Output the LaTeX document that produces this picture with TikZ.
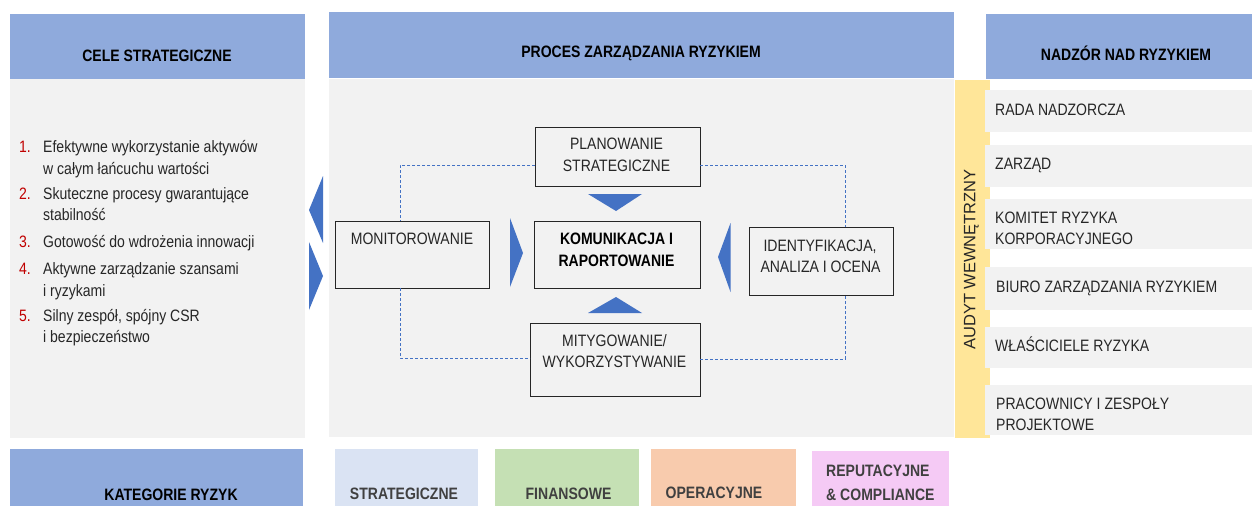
\documentclass[tikz,border=0pt]{standalone}
\usepackage{fontspec}
\setmainfont{Liberation Sans}[FakeStretch=0.85]
\newfontfamily\widefont{Liberation Sans}
\usetikzlibrary{calc}
\definecolor{hdrblue}{HTML}{8FAADC}
\definecolor{panelgray}{HTML}{F2F2F2}
\definecolor{audyt}{HTML}{FFE699}
\definecolor{catstrat}{HTML}{DAE3F3}
\definecolor{catfin}{HTML}{C5E0B4}
\definecolor{catop}{HTML}{F8CBAD}
\definecolor{catrep}{HTML}{F5CAF5}
\definecolor{accent}{HTML}{4472C4}
\definecolor{numred}{HTML}{C00000}
\definecolor{txtcol}{HTML}{262626}
\definecolor{cattxt}{HTML}{404040}
\tikzset{
  panel/.style={anchor=north west, inner sep=0, outer sep=0, draw=none},
  procbox/.style={draw=black!85, line width=1pt, fill=panelgray, inner sep=0, outer sep=0},
  txt/.style={inner sep=0, anchor=base, text=txtcol, font=\fontsize{16.5}{20}\selectfont},
  ltxt/.style={txt, anchor=base west},
  htxt/.style={txt, text=black, font=\fontsize{16.5}{20}\selectfont\bfseries},
  ctxt/.style={txt, text=cattxt, font=\fontsize{16.5}{20}\selectfont\bfseries},
  num/.style={txt, anchor=base west, text=numred},
  dashline/.style={draw=accent, line width=0.8pt, dash pattern=on 3pt off 2pt},
  tri/.style={fill=accent, draw=none}
}
\begin{document}
\begin{tikzpicture}[x=1pt,y=-1pt]
\useasboundingbox (0,0) rectangle (1252,506);
\fill[white] (0,0) rectangle (1252,506);
% ---------- panels ----------
\node[panel, fill=hdrblue, minimum width=295, minimum height=65] (lh) at (10,14) {};
\node[panel, fill=panelgray, minimum width=295, minimum height=359] (lb) at (10,79) {};
\node[panel, fill=hdrblue, minimum width=625, minimum height=66] (mh) at (329,12) {};
\node[panel, fill=panelgray, minimum width=625, minimum height=358] (mb) at (329,79) {};
\node[panel, fill=hdrblue, minimum width=266, minimum height=65] (rh) at (986,14) {};
\node[panel, fill=audyt, minimum width=35, minimum height=358] (au) at (955,80) {};
% right rows
\node[panel, fill=panelgray, minimum width=267, minimum height=42] (r1) at (985,90) {};
\node[panel, fill=panelgray, minimum width=267, minimum height=42] (r2) at (985,145) {};
\node[panel, fill=panelgray, minimum width=267, minimum height=50] (r3) at (985,199) {};
\node[panel, fill=panelgray, minimum width=267, minimum height=43] (r4) at (985,267) {};
\node[panel, fill=panelgray, minimum width=267, minimum height=41] (r5) at (985,327) {};
\node[panel, fill=panelgray, minimum width=267, minimum height=50] (r6) at (985,385) {};
% bottom categories
\node[panel, fill=hdrblue, minimum width=293, minimum height=57] (kh) at (10,449) {};
\node[panel, fill=catstrat, minimum width=143, minimum height=57] (k1) at (335,449) {};
\node[panel, fill=catfin, minimum width=144, minimum height=57] (k2) at (495,449) {};
\node[panel, fill=catop, minimum width=145, minimum height=57] (k3) at (651,449) {};
\node[panel, fill=catrep, minimum width=137, minimum height=55] (k4) at (812,451) {};
% ---------- header texts ----------
\node[htxt] (lht) at (157,61) {CELE STRATEGICZNE};
\node[htxt] (mht) at (641,57) {PROCES ZARZĄDZANIA RYZYKIEM};
\node[htxt] (rht) at (1126,60) {NADZÓR NAD RYZYKIEM};
% ---------- left list ----------
\node[num] (n1) at (19,152) {1.};
\node[ltxt] (t1a) at (43,152) {Efektywne wykorzystanie aktywów};
\node[ltxt] (t1b) at (43,174) {w całym łańcuchu wartości};
\node[num] (n2) at (19,199) {2.};
\node[ltxt] (t2a) at (43,199) {Skuteczne procesy gwarantujące};
\node[ltxt] (t2b) at (43,220) {stabilność};
\node[num] (n3) at (19,247) {3.};
\node[ltxt] (t3a) at (43,247) {Gotowość do wdrożenia innowacji};
\node[num] (n4) at (19,274) {4.};
\node[ltxt] (t4a) at (43,274) {Aktywne zarządzanie szansami};
\node[ltxt] (t4b) at (43,296) {i ryzykami};
\node[num] (n5) at (19,321) {5.};
\node[ltxt] (t5a) at (43,321) {Silny zespół, spójny CSR};
\node[ltxt] (t5b) at (43,342) {i bezpieczeństwo};
% ---------- side arrows between panels ----------
\fill[tri] (309,210) -- (323,176) -- (323,243) -- cycle;
\fill[tri] (309,242) -- (309,310) -- (323,276) -- cycle;
% ---------- process boxes ----------
\node[procbox, minimum width=165, minimum height=59] (plan) at (617.5,156.5) {};
\node[procbox, minimum width=154, minimum height=67] (mon) at (412,254.5) {};
\node[procbox, minimum width=166, minimum height=67] (kom) at (617,254.5) {};
\node[procbox, minimum width=144, minimum height=68] (ide) at (821,261) {};
\node[procbox, minimum width=170, minimum height=73] (mit) at (615,359.5) {};
% dashed cycle
\draw[dashline] (plan.west |- 0,165) -| (400,0 |- mon.north);
\draw[dashline] (plan.east |- 0,165) -| (845,0 |- ide.north);
\draw[dashline] (400,0 |- mon.south) |- (mit.west |- 0,358);
\draw[dashline] (mit.east |- 0,359) -| (845,0 |- ide.south);
% inner arrows
\fill[tri] (588,194) -- (642,194) -- (616,211) -- cycle;
\fill[tri] (588,313) -- (642,313) -- (616,297) -- cycle;
\fill[tri] (510,218) -- (510,287) -- (523,253) -- cycle;
\fill[tri] (730.5,223) -- (730.5,292) -- (718,257) -- cycle;
% box texts
\node[txt] (plan1) at (616.5,149) {PLANOWANIE};
\node[txt] (plan2) at (616.5,171) {STRATEGICZNE};
\node[txt] (mon1) at (412,244) {MONITOROWANIE};
\node[htxt] (kom1) at (616.5,244) {KOMUNIKACJA I};
\node[htxt] (kom2) at (616.5,266) {RAPORTOWANIE};
\node[txt] (ide1) at (820,251) {IDENTYFIKACJA,};
\node[txt] (ide2) at (820.5,272) {ANALIZA I OCENA};
\node[txt] (mit1) at (614.5,346) {MITYGOWANIE/};
\node[txt] (mit2) at (614.5,367) {WYKORZYSTYWANIE};
% ---------- audit strip ----------
\node[inner sep=0, rotate=90, text=txtcol, font=\widefont\fontsize{16.5}{20}\selectfont] (aut) at (971.5,259.5) {AUDYT WEWNĘTRZNY};
% ---------- right rows text ----------
\node[ltxt] (r1t) at (995,115) {RADA NADZORCZA};
\node[ltxt] (r2t) at (995,169) {ZARZĄD};
\node[ltxt] (r3a) at (995,223) {KOMITET RYZYKA};
\node[ltxt] (r3b) at (995,244) {KORPORACYJNEGO};
\node[ltxt] (r4t) at (996,292) {BIURO ZARZĄDZANIA RYZYKIEM};
\node[ltxt] (r5t) at (995,351) {WŁAŚCICIELE RYZYKA};
\node[ltxt] (r6a) at (996,409) {PRACOWNICY I ZESPOŁY};
\node[ltxt] (r6b) at (996,430) {PROJEKTOWE};
% ---------- bottom texts ----------
\node[htxt] (kht) at (171,500) {KATEGORIE RYZYK};
\node[ctxt] (k1t) at (404,499) {STRATEGICZNE};
\node[ctxt] (k2t) at (568.5,499) {FINANSOWE};
\node[ctxt] (k3t) at (714,498) {OPERACYJNE};
\node[ctxt, anchor=base west] (k4a) at (826,476) {REPUTACYJNE};
\node[ctxt, anchor=base west] (k4b) at (826,500) {\& COMPLIANCE};
\end{tikzpicture}
\end{document}
